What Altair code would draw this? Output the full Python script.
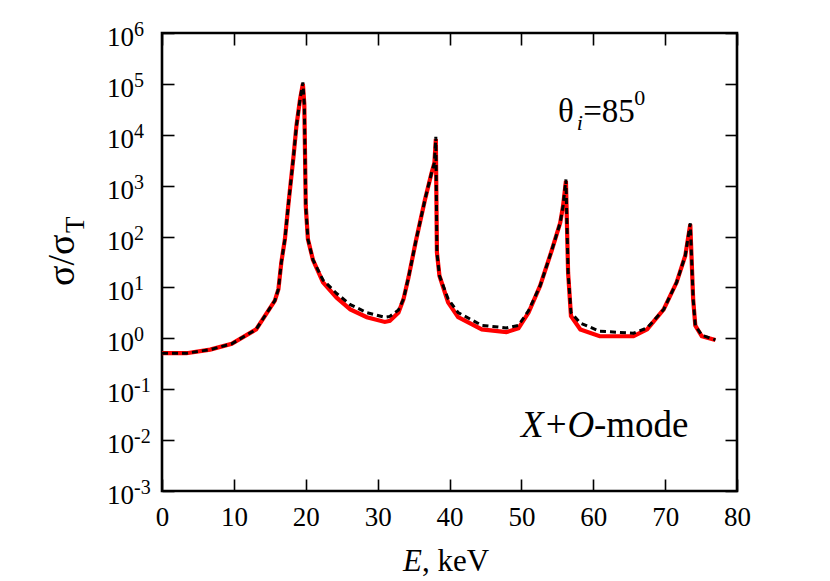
import altair as alt
import pandas as pd

# ---- data ----
energy = [0, 3.4, 6.7, 9.7, 13.1, 15.7, 16.2, 16.6, 17.1, 17.6, 18.3, 18.7, 19.2, 19.6, 19.8,
          20.0, 20.3, 21.0, 22.4, 24.3, 26.2, 28.5, 31.0, 31.7, 32.9, 33.6, 34.3, 35.3, 36.6, 37.5,
          37.9, 38.1, 38.25, 38.6, 39.8, 41.2, 44.5, 47.9, 49.6, 51.0, 52.6, 54.2, 55.4, 55.8, 56.2,
          56.5, 56.9, 58.2, 60.9, 65.6, 67.5, 69.8, 71.6, 72.8, 73.5, 73.9, 74.2, 75.1, 77.0]
sigma_red = [0.51, 0.51, 0.60, 0.78, 1.5, 5.5, 9.3, 31, 89, 450, 3800, 14800, 49000, 100000, 40000,
             400, 89, 35, 12.6, 6.3, 3.7, 2.6, 2.1, 2.2, 3.2, 5.9, 15.8, 79, 540, 1780,
             2800, 8300, 49, 17, 5.1, 2.6, 1.5, 1.32, 1.58, 3.2, 10.7, 52, 186, 400, 1230,
             19.5, 2.75, 1.5, 1.1, 1.1, 1.5, 3.7, 12.6, 42, 174, 5.9, 1.78, 1.1, 0.93]
sigma_black = [0.51, 0.51, 0.60, 0.78, 1.5, 5.5, 9.3, 31, 89, 450, 3800, 14800, 49000, 107000, 40000,
               400, 89, 35, 14, 7.6, 4.6, 3.2, 2.6, 2.7, 3.6, 5.9, 15.8, 79, 540, 1780,
               2800, 9100, 49, 17, 6.0, 3.2, 1.8, 1.6, 1.8, 3.5, 10.7, 52, 186, 400, 1320,
               19.5, 3.2, 2.0, 1.38, 1.26, 1.6, 3.7, 12.6, 42, 182, 5.9, 1.78, 1.15, 0.93]

x_ticks = [0, 10, 20, 30, 40, 50, 60, 70, 80]
y_ticks = [1e-3, 1e-2, 1e-1, 1e0, 1e1, 1e2, 1e3, 1e4, 1e5, 1e6]
y_exps = ["-3", "-2", "-1", "0", "1", "2", "3", "4", "5", "6"]

FONT = "Liberation Serif, Times New Roman, serif"
W, H = 575, 458

df = pd.DataFrame({"E": energy, "red": sigma_red, "black": sigma_black})
ylab = pd.DataFrame({"v": y_ticks, "exp": y_exps})

xs = alt.Scale(domain=[0, 80], nice=False, zero=False)
ys = alt.Scale(type="log", domain=[1e-3, 1e6], nice=False)

tick_axis = dict(labels=False, domain=False, grid=False, title=None, tickSize=12,
                 tickWidth=1.6, tickColor="black")

red_line = alt.Chart(df).mark_line(color="#ff0000", strokeWidth=4.2).encode(
    x=alt.X("E:Q", scale=xs, axis=alt.Axis(orient="bottom", values=x_ticks, tickSize=0, domain=False,
                                            grid=False, title=None, labelFont=FONT, labelFontSize=27,
                                            labelColor="black", labelPadding=13, labelFlush=False,
                                            labelOverlap=False)),
    y=alt.Y("red:Q", scale=ys, axis=alt.Axis(orient="left", values=y_ticks, tickSize=0, domain=False,
                                              labels=False, grid=False, title=None)),
)

black_line = alt.Chart(df).mark_line(color="black", strokeWidth=3, strokeDash=[6, 4]).encode(
    x=alt.X("E:Q", scale=xs, axis=alt.Axis(orient="top", offset=-H, values=x_ticks, **tick_axis)),
    y=alt.Y("black:Q", scale=ys, axis=alt.Axis(orient="right", offset=-W, values=y_ticks, **tick_axis)),
)

ghost = alt.Chart(df).mark_line(opacity=0).encode(
    x=alt.X("E:Q", scale=xs, axis=alt.Axis(orient="bottom", offset=-H, values=x_ticks, **tick_axis)),
    y=alt.Y("red:Q", scale=ys, axis=alt.Axis(orient="left", offset=-W, values=y_ticks, **tick_axis)),
)

ten = alt.Chart(ylab).mark_text(text="10", align="right", baseline="alphabetic", dy=13,
                                font=FONT, fontSize=27, color="black").encode(
    x=alt.value(-28), y=alt.Y("v:Q", scale=ys, axis=None))
expo = alt.Chart(ylab).mark_text(align="left", baseline="alphabetic", dy=3,
                                 font=FONT, fontSize=20, color="black").encode(
    x=alt.value(-28), y=alt.Y("v:Q", scale=ys, axis=None), text="exp:N")

# y title  sigma/sigma_T
ytitle = alt.Chart(pd.DataFrame({"t": ["σ/σ"]})).mark_text(
    angle=270, align="left", baseline="alphabetic", font=FONT, fontSize=38, color="black").encode(
    x=alt.value(-88), y=alt.value(253), text="t:N")
ysub = alt.Chart(pd.DataFrame({"t": ["T"]})).mark_text(
    angle=270, align="left", baseline="alphabetic", font=FONT, fontSize=27, color="black").encode(
    x=alt.value(-78), y=alt.value(200), text="t:N")

# x title  E, keV
xt1 = alt.Chart(pd.DataFrame({"t": ["E"]})).mark_text(
    align="left", baseline="alphabetic", font=FONT, fontSize=31, fontStyle="italic", color="black").encode(
    x=alt.value(241), y=alt.value(538), text="t:N")
xt2 = alt.Chart(pd.DataFrame({"t": [", keV"]})).mark_text(
    align="left", baseline="alphabetic", font=FONT, fontSize=31, color="black").encode(
    x=alt.value(260), y=alt.value(538), text="t:N")

# annotations (data coordinates)
ann = pd.DataFrame({
    "x": [55.1, 57.7, 58.6, 65.7, 49.95, 53.4, 56.4, 60.1],
    "y": [18200, 12600, 18200, 39000, 0.0116, 0.0116, 0.0116, 0.0116],
    "t": ["θ", "i", "=85", "0", "X", "+", "O", "-mode"],
    "size": [33, 22, 33, 22, 37, 37, 37, 37],
    "style": ["normal", "italic", "normal", "normal", "italic", "normal", "italic", "normal"],
})
ann_layers = []
for style in ["normal", "italic"]:
    for size in [22, 33, 37]:
        sub = ann[(ann["style"] == style) & (ann["size"] == size)]
        if len(sub) == 0:
            continue
        ann_layers.append(alt.Chart(sub).mark_text(
            align="left", baseline="alphabetic", font=FONT, fontSize=size, fontStyle=style,
            color="black").encode(
            x=alt.X("x:Q", scale=xs, axis=None), y=alt.Y("y:Q", scale=ys, axis=None), text="t:N"))

chart = alt.layer(red_line, black_line, ghost, ten, expo, ytitle, ysub, xt1, xt2, *ann_layers).resolve_axis(
    x="independent", y="independent").properties(
    width=W, height=H,
    autosize=alt.AutoSizeParams(type="none"),
    padding={"left": 154, "top": 25, "right": 70, "bottom": 90},
    background="white",
).configure_view(stroke="black", strokeWidth=2.6)

chart.save("out.html", embed_options={"renderer": "svg", "actions": False})
